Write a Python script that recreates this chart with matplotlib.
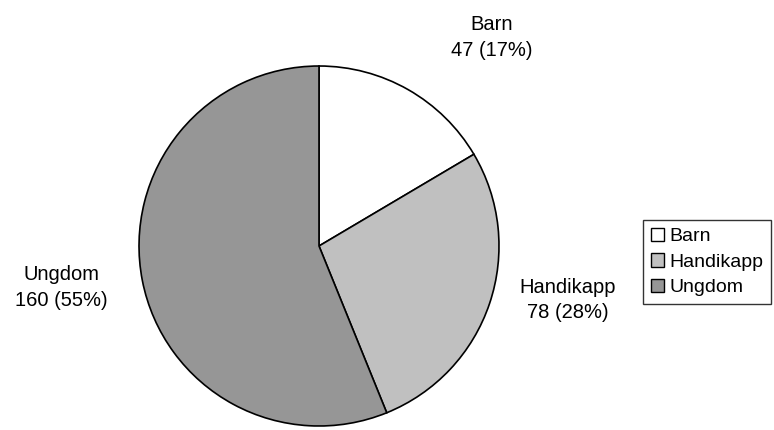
import matplotlib.pyplot as plt
from matplotlib.patches import Patch

plt.rcParams['font.family'] = ['Liberation Sans', 'DejaVu Sans']

categories = ['Barn', 'Handikapp', 'Ungdom']
counts = [47, 78, 160]
percent_labels = ['17%', '28%', '55%']
colors = ['#ffffff', '#c0c0c0', '#969696']

fig = plt.figure(figsize=(7.74, 4.30), dpi=100)
ax = fig.add_axes([0.1796, 0.0093, 0.4651, 0.8372])
ax.pie(counts, colors=colors, startangle=90, counterclock=False,
       wedgeprops=dict(edgecolor='black', linewidth=1.2))
ax.set_xlim(-1, 1)
ax.set_ylim(-1, 1)

# label positions (in pie radius units), as placed in the reference
label_pos = [(0.96, 1.16), (1.38, -0.30), (-1.43, -0.23)]
for name, n, pct, (lx, ly) in zip(categories, counts, percent_labels, label_pos):
    ax.text(lx, ly, f'{name}\n{n} ({pct})', ha='center', va='center',
            fontsize=14.5, linespacing=1.45, clip_on=False)

handles = [Patch(facecolor=c, edgecolor='black', linewidth=1) for c in colors]
leg = fig.legend(handles, categories, loc='upper left',
                 bbox_to_anchor=(643 / 774, 1 - 220 / 430), fontsize=14,
                 frameon=True, fancybox=False, edgecolor='black',
                 handlelength=0.7, handleheight=0.7, handletextpad=0.25,
                 borderpad=0.4, labelspacing=0.4, borderaxespad=0)
leg.get_frame().set_linewidth(1)

fig.savefig('out.png', dpi=100)
